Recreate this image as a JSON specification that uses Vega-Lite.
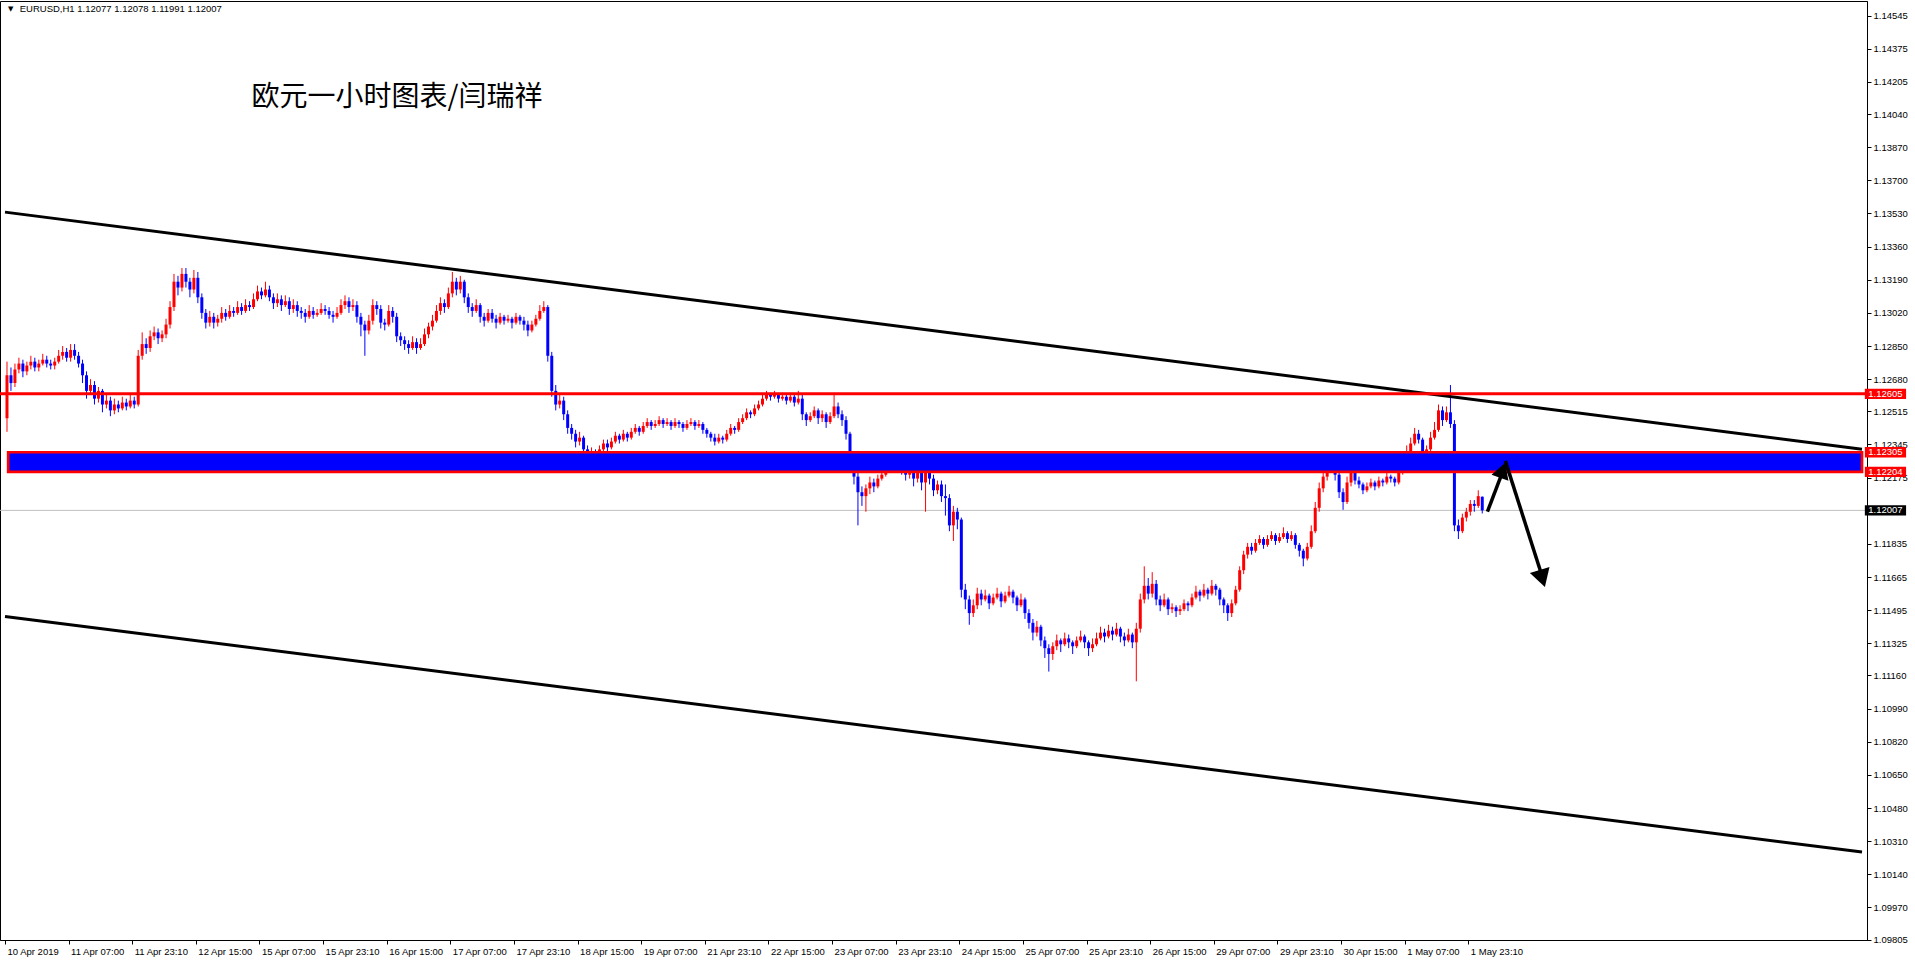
{
"$schema": "https://vega.github.io/schema/vega-lite/v6.json",
"width": 1867, "height": 939,
"autosize": {"type": "none"},
"padding": {"left": 0, "top": 1, "right": 48, "bottom": 23},
"background": "#ffffff",
"config": {"view": {"stroke": "#000000", "strokeWidth": 1}, "font": "Liberation Sans", "axis": {"labelOverlap": false, "labelBound": false, "labelFlush": false}},
"resolve": {"axis": {"x": "independent", "y": "independent"}},
"datasets": {
"candles": [
{"i":0,"o":1.1248,"h":1.1277,"l":1.1241,"c":1.1270},
{"i":1,"o":1.1270,"h":1.1274,"l":1.1262,"c":1.1266},
{"i":2,"o":1.1266,"h":1.1276,"l":1.1264,"c":1.1273},
{"i":3,"o":1.1273,"h":1.1279,"l":1.1271,"c":1.1276},
{"i":4,"o":1.1276,"h":1.1278,"l":1.1269,"c":1.1272},
{"i":5,"o":1.1272,"h":1.1277,"l":1.1270,"c":1.1275},
{"i":6,"o":1.1275,"h":1.1280,"l":1.1273,"c":1.1277},
{"i":7,"o":1.1277,"h":1.1279,"l":1.1272,"c":1.1274},
{"i":8,"o":1.1274,"h":1.1278,"l":1.1272,"c":1.1276},
{"i":9,"o":1.1276,"h":1.1281,"l":1.1275,"c":1.1278},
{"i":10,"o":1.1278,"h":1.1280,"l":1.1274,"c":1.1276},
{"i":11,"o":1.1276,"h":1.1278,"l":1.1273,"c":1.1275},
{"i":12,"o":1.1275,"h":1.1279,"l":1.1273,"c":1.1277},
{"i":13,"o":1.1277,"h":1.1283,"l":1.1276,"c":1.1280},
{"i":14,"o":1.1280,"h":1.1285,"l":1.1278,"c":1.1282},
{"i":15,"o":1.1282,"h":1.1284,"l":1.1277,"c":1.1279},
{"i":16,"o":1.1279,"h":1.1286,"l":1.1277,"c":1.1283},
{"i":17,"o":1.1283,"h":1.1286,"l":1.1278,"c":1.1280},
{"i":18,"o":1.1280,"h":1.1282,"l":1.1274,"c":1.1276},
{"i":19,"o":1.1276,"h":1.1278,"l":1.1266,"c":1.1270},
{"i":20,"o":1.1270,"h":1.1272,"l":1.1258,"c":1.1262},
{"i":21,"o":1.1262,"h":1.1268,"l":1.1260,"c":1.1265},
{"i":22,"o":1.1265,"h":1.1267,"l":1.1255,"c":1.1258},
{"i":23,"o":1.1258,"h":1.1264,"l":1.1256,"c":1.1262},
{"i":24,"o":1.1262,"h":1.1263,"l":1.1251,"c":1.1255},
{"i":25,"o":1.1255,"h":1.1260,"l":1.1253,"c":1.1257},
{"i":26,"o":1.1257,"h":1.1259,"l":1.1249,"c":1.1252},
{"i":27,"o":1.1252,"h":1.1258,"l":1.1250,"c":1.1255},
{"i":28,"o":1.1255,"h":1.1257,"l":1.1251,"c":1.1253},
{"i":29,"o":1.1253,"h":1.1259,"l":1.1252,"c":1.1256},
{"i":30,"o":1.1256,"h":1.1258,"l":1.1252,"c":1.1254},
{"i":31,"o":1.1254,"h":1.1260,"l":1.1253,"c":1.1257},
{"i":32,"o":1.1257,"h":1.1259,"l":1.1253,"c":1.1255},
{"i":33,"o":1.1255,"h":1.1283,"l":1.1254,"c":1.1280},
{"i":34,"o":1.1280,"h":1.1292,"l":1.1278,"c":1.1286},
{"i":35,"o":1.1286,"h":1.1289,"l":1.1281,"c":1.1284},
{"i":36,"o":1.1284,"h":1.1293,"l":1.1282,"c":1.1290},
{"i":37,"o":1.1290,"h":1.1295,"l":1.1288,"c":1.1292},
{"i":38,"o":1.1292,"h":1.1294,"l":1.1286,"c":1.1289},
{"i":39,"o":1.1289,"h":1.1293,"l":1.1287,"c":1.1291},
{"i":40,"o":1.1291,"h":1.1299,"l":1.1289,"c":1.1296},
{"i":41,"o":1.1296,"h":1.1308,"l":1.1294,"c":1.1305},
{"i":42,"o":1.1305,"h":1.1322,"l":1.1303,"c":1.1318},
{"i":43,"o":1.1318,"h":1.1321,"l":1.1311,"c":1.1315},
{"i":44,"o":1.1315,"h":1.1325,"l":1.1313,"c":1.1322},
{"i":45,"o":1.1322,"h":1.1325,"l":1.1315,"c":1.1318},
{"i":46,"o":1.1318,"h":1.1320,"l":1.1310,"c":1.1314},
{"i":47,"o":1.1314,"h":1.1324,"l":1.1312,"c":1.1320},
{"i":48,"o":1.1320,"h":1.1323,"l":1.1307,"c":1.1310},
{"i":49,"o":1.1310,"h":1.1312,"l":1.1299,"c":1.1302},
{"i":50,"o":1.1302,"h":1.1304,"l":1.1294,"c":1.1297},
{"i":51,"o":1.1297,"h":1.1303,"l":1.1295,"c":1.1300},
{"i":52,"o":1.1300,"h":1.1302,"l":1.1294,"c":1.1297},
{"i":53,"o":1.1297,"h":1.1301,"l":1.1295,"c":1.1299},
{"i":54,"o":1.1299,"h":1.1305,"l":1.1297,"c":1.1302},
{"i":55,"o":1.1302,"h":1.1304,"l":1.1298,"c":1.1300},
{"i":56,"o":1.1300,"h":1.1306,"l":1.1299,"c":1.1303},
{"i":57,"o":1.1303,"h":1.1305,"l":1.1300,"c":1.1302},
{"i":58,"o":1.1302,"h":1.1308,"l":1.1301,"c":1.1305},
{"i":59,"o":1.1305,"h":1.1307,"l":1.1301,"c":1.1303},
{"i":60,"o":1.1303,"h":1.1309,"l":1.1302,"c":1.1306},
{"i":61,"o":1.1306,"h":1.1308,"l":1.1303,"c":1.1305},
{"i":62,"o":1.1305,"h":1.1312,"l":1.1304,"c":1.1309},
{"i":63,"o":1.1309,"h":1.1316,"l":1.1308,"c":1.1313},
{"i":64,"o":1.1313,"h":1.1315,"l":1.1309,"c":1.1311},
{"i":65,"o":1.1311,"h":1.1318,"l":1.1310,"c":1.1314},
{"i":66,"o":1.1314,"h":1.1316,"l":1.1308,"c":1.1310},
{"i":67,"o":1.1310,"h":1.1312,"l":1.1304,"c":1.1307},
{"i":68,"o":1.1307,"h":1.1312,"l":1.1305,"c":1.1309},
{"i":69,"o":1.1309,"h":1.1311,"l":1.1303,"c":1.1306},
{"i":70,"o":1.1306,"h":1.1311,"l":1.1305,"c":1.1308},
{"i":71,"o":1.1308,"h":1.1310,"l":1.1301,"c":1.1304},
{"i":72,"o":1.1304,"h":1.1309,"l":1.1302,"c":1.1306},
{"i":73,"o":1.1306,"h":1.1308,"l":1.1300,"c":1.1303},
{"i":74,"o":1.1303,"h":1.1305,"l":1.1299,"c":1.1302},
{"i":75,"o":1.1302,"h":1.1304,"l":1.1297,"c":1.1300},
{"i":76,"o":1.1300,"h":1.1306,"l":1.1299,"c":1.1303},
{"i":77,"o":1.1303,"h":1.1305,"l":1.1299,"c":1.1301},
{"i":78,"o":1.1301,"h":1.1304,"l":1.1300,"c":1.1302},
{"i":79,"o":1.1302,"h":1.1307,"l":1.1301,"c":1.1304},
{"i":80,"o":1.1304,"h":1.1306,"l":1.1301,"c":1.1303},
{"i":81,"o":1.1303,"h":1.1305,"l":1.1299,"c":1.1301},
{"i":82,"o":1.1301,"h":1.1303,"l":1.1297,"c":1.1300},
{"i":83,"o":1.1300,"h":1.1305,"l":1.1299,"c":1.1302},
{"i":84,"o":1.1302,"h":1.1309,"l":1.1301,"c":1.1306},
{"i":85,"o":1.1306,"h":1.1311,"l":1.1304,"c":1.1308},
{"i":86,"o":1.1308,"h":1.1310,"l":1.1302,"c":1.1305},
{"i":87,"o":1.1305,"h":1.1309,"l":1.1303,"c":1.1306},
{"i":88,"o":1.1306,"h":1.1308,"l":1.1297,"c":1.1300},
{"i":89,"o":1.1300,"h":1.1302,"l":1.1290,"c":1.1296},
{"i":90,"o":1.1296,"h":1.1298,"l":1.1280,"c":1.1293},
{"i":91,"o":1.1293,"h":1.1301,"l":1.1291,"c":1.1298},
{"i":92,"o":1.1298,"h":1.1309,"l":1.1296,"c":1.1306},
{"i":93,"o":1.1306,"h":1.1308,"l":1.1301,"c":1.1304},
{"i":94,"o":1.1304,"h":1.1306,"l":1.1294,"c":1.1297},
{"i":95,"o":1.1297,"h":1.1299,"l":1.1293,"c":1.1296},
{"i":96,"o":1.1296,"h":1.1306,"l":1.1295,"c":1.1303},
{"i":97,"o":1.1303,"h":1.1305,"l":1.1297,"c":1.1300},
{"i":98,"o":1.1300,"h":1.1302,"l":1.1287,"c":1.1290},
{"i":99,"o":1.1290,"h":1.1292,"l":1.1285,"c":1.1288},
{"i":100,"o":1.1288,"h":1.1290,"l":1.1283,"c":1.1286},
{"i":101,"o":1.1286,"h":1.1288,"l":1.1281,"c":1.1284},
{"i":102,"o":1.1284,"h":1.1290,"l":1.1283,"c":1.1287},
{"i":103,"o":1.1287,"h":1.1289,"l":1.1281,"c":1.1284},
{"i":104,"o":1.1284,"h":1.1289,"l":1.1283,"c":1.1286},
{"i":105,"o":1.1286,"h":1.1294,"l":1.1285,"c":1.1291},
{"i":106,"o":1.1291,"h":1.1297,"l":1.1289,"c":1.1295},
{"i":107,"o":1.1295,"h":1.1301,"l":1.1293,"c":1.1298},
{"i":108,"o":1.1298,"h":1.1306,"l":1.1297,"c":1.1303},
{"i":109,"o":1.1303,"h":1.1310,"l":1.1301,"c":1.1307},
{"i":110,"o":1.1307,"h":1.1309,"l":1.1302,"c":1.1305},
{"i":111,"o":1.1305,"h":1.1315,"l":1.1304,"c":1.1312},
{"i":112,"o":1.1312,"h":1.1323,"l":1.1310,"c":1.1318},
{"i":113,"o":1.1318,"h":1.1320,"l":1.1311,"c":1.1314},
{"i":114,"o":1.1314,"h":1.1321,"l":1.1312,"c":1.1318},
{"i":115,"o":1.1318,"h":1.1319,"l":1.1307,"c":1.1310},
{"i":116,"o":1.1310,"h":1.1312,"l":1.1302,"c":1.1305},
{"i":117,"o":1.1305,"h":1.1307,"l":1.1300,"c":1.1303},
{"i":118,"o":1.1303,"h":1.1309,"l":1.1302,"c":1.1306},
{"i":119,"o":1.1306,"h":1.1307,"l":1.1297,"c":1.1300},
{"i":120,"o":1.1300,"h":1.1302,"l":1.1295,"c":1.1298},
{"i":121,"o":1.1298,"h":1.1304,"l":1.1297,"c":1.1302},
{"i":122,"o":1.1302,"h":1.1304,"l":1.1297,"c":1.1299},
{"i":123,"o":1.1299,"h":1.1301,"l":1.1294,"c":1.1297},
{"i":124,"o":1.1297,"h":1.1302,"l":1.1296,"c":1.1300},
{"i":125,"o":1.1300,"h":1.1301,"l":1.1296,"c":1.1298},
{"i":126,"o":1.1298,"h":1.1301,"l":1.1297,"c":1.1299},
{"i":127,"o":1.1299,"h":1.1300,"l":1.1294,"c":1.1297},
{"i":128,"o":1.1297,"h":1.1302,"l":1.1296,"c":1.1300},
{"i":129,"o":1.1300,"h":1.1301,"l":1.1296,"c":1.1298},
{"i":130,"o":1.1298,"h":1.1300,"l":1.1293,"c":1.1296},
{"i":131,"o":1.1296,"h":1.1298,"l":1.1290,"c":1.1293},
{"i":132,"o":1.1293,"h":1.1298,"l":1.1292,"c":1.1296},
{"i":133,"o":1.1296,"h":1.1301,"l":1.1295,"c":1.1299},
{"i":134,"o":1.1299,"h":1.1306,"l":1.1298,"c":1.1303},
{"i":135,"o":1.1303,"h":1.1308,"l":1.1302,"c":1.1305},
{"i":136,"o":1.1305,"h":1.1306,"l":1.1277,"c":1.1280},
{"i":137,"o":1.1280,"h":1.1282,"l":1.1259,"c":1.1262},
{"i":138,"o":1.1262,"h":1.1265,"l":1.1252,"c":1.1255},
{"i":139,"o":1.1255,"h":1.1260,"l":1.1253,"c":1.1257},
{"i":140,"o":1.1257,"h":1.1259,"l":1.1247,"c":1.1250},
{"i":141,"o":1.1250,"h":1.1252,"l":1.1240,"c":1.1243},
{"i":142,"o":1.1243,"h":1.1245,"l":1.1237,"c":1.1240},
{"i":143,"o":1.1240,"h":1.1242,"l":1.1233,"c":1.1236},
{"i":144,"o":1.1236,"h":1.1241,"l":1.1234,"c":1.1238},
{"i":145,"o":1.1238,"h":1.1239,"l":1.1229,"c":1.1232},
{"i":146,"o":1.1232,"h":1.1234,"l":1.1226,"c":1.1229},
{"i":147,"o":1.1229,"h":1.1233,"l":1.1227,"c":1.1231},
{"i":148,"o":1.1231,"h":1.1232,"l":1.1226,"c":1.1229},
{"i":149,"o":1.1229,"h":1.1234,"l":1.1228,"c":1.1232},
{"i":150,"o":1.1232,"h":1.1237,"l":1.1231,"c":1.1235},
{"i":151,"o":1.1235,"h":1.1237,"l":1.1231,"c":1.1233},
{"i":152,"o":1.1233,"h":1.1238,"l":1.1232,"c":1.1236},
{"i":153,"o":1.1236,"h":1.1241,"l":1.1235,"c":1.1239},
{"i":154,"o":1.1239,"h":1.1240,"l":1.1235,"c":1.1237},
{"i":155,"o":1.1237,"h":1.1242,"l":1.1236,"c":1.1240},
{"i":156,"o":1.1240,"h":1.1241,"l":1.1236,"c":1.1238},
{"i":157,"o":1.1238,"h":1.1243,"l":1.1237,"c":1.1241},
{"i":158,"o":1.1241,"h":1.1245,"l":1.1240,"c":1.1243},
{"i":159,"o":1.1243,"h":1.1244,"l":1.1239,"c":1.1241},
{"i":160,"o":1.1241,"h":1.1246,"l":1.1240,"c":1.1244},
{"i":161,"o":1.1244,"h":1.1248,"l":1.1243,"c":1.1246},
{"i":162,"o":1.1246,"h":1.1247,"l":1.1242,"c":1.1244},
{"i":163,"o":1.1244,"h":1.1247,"l":1.1243,"c":1.1245},
{"i":164,"o":1.1245,"h":1.1249,"l":1.1244,"c":1.1247},
{"i":165,"o":1.1247,"h":1.1248,"l":1.1243,"c":1.1245},
{"i":166,"o":1.1245,"h":1.1248,"l":1.1244,"c":1.1246},
{"i":167,"o":1.1246,"h":1.1247,"l":1.1242,"c":1.1244},
{"i":168,"o":1.1244,"h":1.1248,"l":1.1243,"c":1.1246},
{"i":169,"o":1.1246,"h":1.1247,"l":1.1243,"c":1.1245},
{"i":170,"o":1.1245,"h":1.1246,"l":1.1241,"c":1.1243},
{"i":171,"o":1.1243,"h":1.1247,"l":1.1242,"c":1.1245},
{"i":172,"o":1.1245,"h":1.1248,"l":1.1244,"c":1.1246},
{"i":173,"o":1.1246,"h":1.1247,"l":1.1242,"c":1.1244},
{"i":174,"o":1.1244,"h":1.1247,"l":1.1243,"c":1.1245},
{"i":175,"o":1.1245,"h":1.1246,"l":1.1240,"c":1.1242},
{"i":176,"o":1.1242,"h":1.1243,"l":1.1238,"c":1.1240},
{"i":177,"o":1.1240,"h":1.1241,"l":1.1236,"c":1.1238},
{"i":178,"o":1.1238,"h":1.1240,"l":1.1234,"c":1.1236},
{"i":179,"o":1.1236,"h":1.1240,"l":1.1235,"c":1.1238},
{"i":180,"o":1.1238,"h":1.1239,"l":1.1235,"c":1.1237},
{"i":181,"o":1.1237,"h":1.1242,"l":1.1236,"c":1.1240},
{"i":182,"o":1.1240,"h":1.1245,"l":1.1239,"c":1.1243},
{"i":183,"o":1.1243,"h":1.1244,"l":1.1240,"c":1.1242},
{"i":184,"o":1.1242,"h":1.1248,"l":1.1241,"c":1.1246},
{"i":185,"o":1.1246,"h":1.1250,"l":1.1245,"c":1.1248},
{"i":186,"o":1.1248,"h":1.1253,"l":1.1247,"c":1.1251},
{"i":187,"o":1.1251,"h":1.1252,"l":1.1248,"c":1.1250},
{"i":188,"o":1.1250,"h":1.1255,"l":1.1249,"c":1.1253},
{"i":189,"o":1.1253,"h":1.1257,"l":1.1252,"c":1.1255},
{"i":190,"o":1.1255,"h":1.1260,"l":1.1254,"c":1.1258},
{"i":191,"o":1.1258,"h":1.1262,"l":1.1257,"c":1.1260},
{"i":192,"o":1.1260,"h":1.1261,"l":1.1257,"c":1.1259},
{"i":193,"o":1.1259,"h":1.1262,"l":1.1258,"c":1.1260},
{"i":194,"o":1.1260,"h":1.1261,"l":1.1256,"c":1.1258},
{"i":195,"o":1.1258,"h":1.1261,"l":1.1257,"c":1.1259},
{"i":196,"o":1.1259,"h":1.1260,"l":1.1255,"c":1.1257},
{"i":197,"o":1.1257,"h":1.1261,"l":1.1256,"c":1.1259},
{"i":198,"o":1.1259,"h":1.1260,"l":1.1254,"c":1.1256},
{"i":199,"o":1.1256,"h":1.1262,"l":1.1255,"c":1.1258},
{"i":200,"o":1.1258,"h":1.1260,"l":1.1247,"c":1.1250},
{"i":201,"o":1.1250,"h":1.1251,"l":1.1244,"c":1.1247},
{"i":202,"o":1.1247,"h":1.1251,"l":1.1246,"c":1.1249},
{"i":203,"o":1.1249,"h":1.1254,"l":1.1248,"c":1.1252},
{"i":204,"o":1.1252,"h":1.1253,"l":1.1245,"c":1.1248},
{"i":205,"o":1.1248,"h":1.1252,"l":1.1246,"c":1.1250},
{"i":206,"o":1.1250,"h":1.1251,"l":1.1243,"c":1.1246},
{"i":207,"o":1.1246,"h":1.1251,"l":1.1245,"c":1.1249},
{"i":208,"o":1.1249,"h":1.1261,"l":1.1248,"c":1.1254},
{"i":209,"o":1.1254,"h":1.1256,"l":1.1248,"c":1.1250},
{"i":210,"o":1.1250,"h":1.1252,"l":1.1244,"c":1.1247},
{"i":211,"o":1.1247,"h":1.1249,"l":1.1237,"c":1.1240},
{"i":212,"o":1.1240,"h":1.1241,"l":1.1225,"c":1.1228},
{"i":213,"o":1.1228,"h":1.1230,"l":1.1214,"c":1.1218},
{"i":214,"o":1.1218,"h":1.1220,"l":1.1193,"c":1.1210},
{"i":215,"o":1.1210,"h":1.1213,"l":1.1203,"c":1.1208},
{"i":216,"o":1.1208,"h":1.1214,"l":1.1200,"c":1.1212},
{"i":217,"o":1.1212,"h":1.1218,"l":1.1209,"c":1.1215},
{"i":218,"o":1.1215,"h":1.1217,"l":1.1210,"c":1.1213},
{"i":219,"o":1.1213,"h":1.1219,"l":1.1212,"c":1.1217},
{"i":220,"o":1.1217,"h":1.1221,"l":1.1216,"c":1.1219},
{"i":221,"o":1.1219,"h":1.1229,"l":1.1218,"c":1.1224},
{"i":222,"o":1.1224,"h":1.1231,"l":1.1223,"c":1.1228},
{"i":223,"o":1.1228,"h":1.1230,"l":1.1224,"c":1.1226},
{"i":224,"o":1.1226,"h":1.1228,"l":1.1222,"c":1.1224},
{"i":225,"o":1.1224,"h":1.1226,"l":1.1219,"c":1.1222},
{"i":226,"o":1.1222,"h":1.1224,"l":1.1216,"c":1.1219},
{"i":227,"o":1.1219,"h":1.1223,"l":1.1217,"c":1.1221},
{"i":228,"o":1.1221,"h":1.1222,"l":1.1213,"c":1.1217},
{"i":229,"o":1.1217,"h":1.1223,"l":1.1215,"c":1.1220},
{"i":230,"o":1.1220,"h":1.1221,"l":1.1211,"c":1.1215},
{"i":231,"o":1.1215,"h":1.1226,"l":1.1200,"c":1.1222},
{"i":232,"o":1.1222,"h":1.1224,"l":1.1214,"c":1.1217},
{"i":233,"o":1.1217,"h":1.1219,"l":1.1208,"c":1.1211},
{"i":234,"o":1.1211,"h":1.1216,"l":1.1209,"c":1.1214},
{"i":235,"o":1.1214,"h":1.1216,"l":1.1205,"c":1.1208},
{"i":236,"o":1.1208,"h":1.1214,"l":1.1198,"c":1.1207},
{"i":237,"o":1.1207,"h":1.1209,"l":1.1190,"c":1.1193},
{"i":238,"o":1.1193,"h":1.1203,"l":1.1185,"c":1.1200},
{"i":239,"o":1.1200,"h":1.1202,"l":1.1191,"c":1.1196},
{"i":240,"o":1.1196,"h":1.1197,"l":1.1156,"c":1.1160},
{"i":241,"o":1.1160,"h":1.1163,"l":1.1150,"c":1.1155},
{"i":242,"o":1.1155,"h":1.1157,"l":1.1142,"c":1.1148},
{"i":243,"o":1.1148,"h":1.1155,"l":1.1146,"c":1.1152},
{"i":244,"o":1.1152,"h":1.1161,"l":1.1150,"c":1.1158},
{"i":245,"o":1.1158,"h":1.1160,"l":1.1152,"c":1.1155},
{"i":246,"o":1.1155,"h":1.1160,"l":1.1154,"c":1.1157},
{"i":247,"o":1.1157,"h":1.1158,"l":1.1150,"c":1.1153},
{"i":248,"o":1.1153,"h":1.1158,"l":1.1152,"c":1.1156},
{"i":249,"o":1.1156,"h":1.1161,"l":1.1155,"c":1.1158},
{"i":250,"o":1.1158,"h":1.1159,"l":1.1151,"c":1.1154},
{"i":251,"o":1.1154,"h":1.1159,"l":1.1153,"c":1.1157},
{"i":252,"o":1.1157,"h":1.1162,"l":1.1156,"c":1.1159},
{"i":253,"o":1.1159,"h":1.1160,"l":1.1153,"c":1.1156},
{"i":254,"o":1.1156,"h":1.1157,"l":1.1149,"c":1.1152},
{"i":255,"o":1.1152,"h":1.1158,"l":1.1151,"c":1.1155},
{"i":256,"o":1.1155,"h":1.1156,"l":1.1145,"c":1.1148},
{"i":257,"o":1.1148,"h":1.1150,"l":1.1140,"c":1.1143},
{"i":258,"o":1.1143,"h":1.1145,"l":1.1134,"c":1.1138},
{"i":259,"o":1.1138,"h":1.1144,"l":1.1136,"c":1.1141},
{"i":260,"o":1.1141,"h":1.1142,"l":1.1131,"c":1.1134},
{"i":261,"o":1.1134,"h":1.1136,"l":1.1125,"c":1.1130},
{"i":262,"o":1.1130,"h":1.1132,"l":1.1118,"c":1.1127},
{"i":263,"o":1.1127,"h":1.1133,"l":1.1124,"c":1.1131},
{"i":264,"o":1.1131,"h":1.1137,"l":1.1129,"c":1.1134},
{"i":265,"o":1.1134,"h":1.1135,"l":1.1128,"c":1.1132},
{"i":266,"o":1.1132,"h":1.1138,"l":1.1131,"c":1.1135},
{"i":267,"o":1.1135,"h":1.1137,"l":1.1130,"c":1.1133},
{"i":268,"o":1.1133,"h":1.1134,"l":1.1127,"c":1.1131},
{"i":269,"o":1.1131,"h":1.1136,"l":1.1130,"c":1.1134},
{"i":270,"o":1.1134,"h":1.1139,"l":1.1133,"c":1.1136},
{"i":271,"o":1.1136,"h":1.1137,"l":1.1130,"c":1.1133},
{"i":272,"o":1.1133,"h":1.1134,"l":1.1126,"c":1.1130},
{"i":273,"o":1.1130,"h":1.1135,"l":1.1128,"c":1.1132},
{"i":274,"o":1.1132,"h":1.1138,"l":1.1131,"c":1.1135},
{"i":275,"o":1.1135,"h":1.1141,"l":1.1134,"c":1.1138},
{"i":276,"o":1.1138,"h":1.1140,"l":1.1133,"c":1.1136},
{"i":277,"o":1.1136,"h":1.1142,"l":1.1135,"c":1.1139},
{"i":278,"o":1.1139,"h":1.1141,"l":1.1134,"c":1.1137},
{"i":279,"o":1.1137,"h":1.1143,"l":1.1136,"c":1.1140},
{"i":280,"o":1.1140,"h":1.1141,"l":1.1133,"c":1.1136},
{"i":281,"o":1.1136,"h":1.1138,"l":1.1131,"c":1.1134},
{"i":282,"o":1.1134,"h":1.1140,"l":1.1133,"c":1.1137},
{"i":283,"o":1.1137,"h":1.1138,"l":1.1130,"c":1.1133},
{"i":284,"o":1.1133,"h":1.1143,"l":1.1113,"c":1.1140},
{"i":285,"o":1.1140,"h":1.1158,"l":1.1138,"c":1.1155},
{"i":286,"o":1.1155,"h":1.1172,"l":1.1153,"c":1.1162},
{"i":287,"o":1.1162,"h":1.1166,"l":1.1155,"c":1.1158},
{"i":288,"o":1.1158,"h":1.1169,"l":1.1156,"c":1.1163},
{"i":289,"o":1.1163,"h":1.1165,"l":1.1152,"c":1.1155},
{"i":290,"o":1.1155,"h":1.1157,"l":1.1149,"c":1.1152},
{"i":291,"o":1.1152,"h":1.1158,"l":1.1151,"c":1.1155},
{"i":292,"o":1.1155,"h":1.1156,"l":1.1147,"c":1.1150},
{"i":293,"o":1.1150,"h":1.1153,"l":1.1148,"c":1.1151},
{"i":294,"o":1.1151,"h":1.1152,"l":1.1146,"c":1.1149},
{"i":295,"o":1.1149,"h":1.1152,"l":1.1147,"c":1.1150},
{"i":296,"o":1.1150,"h":1.1155,"l":1.1149,"c":1.1153},
{"i":297,"o":1.1153,"h":1.1154,"l":1.1149,"c":1.1152},
{"i":298,"o":1.1152,"h":1.1158,"l":1.1151,"c":1.1156},
{"i":299,"o":1.1156,"h":1.1162,"l":1.1155,"c":1.1159},
{"i":300,"o":1.1159,"h":1.1160,"l":1.1154,"c":1.1157},
{"i":301,"o":1.1157,"h":1.1163,"l":1.1156,"c":1.1160},
{"i":302,"o":1.1160,"h":1.1161,"l":1.1155,"c":1.1158},
{"i":303,"o":1.1158,"h":1.1165,"l":1.1157,"c":1.1162},
{"i":304,"o":1.1162,"h":1.1163,"l":1.1157,"c":1.1160},
{"i":305,"o":1.1160,"h":1.1161,"l":1.1152,"c":1.1155},
{"i":306,"o":1.1155,"h":1.1156,"l":1.1148,"c":1.1152},
{"i":307,"o":1.1152,"h":1.1153,"l":1.1144,"c":1.1148},
{"i":308,"o":1.1148,"h":1.1155,"l":1.1146,"c":1.1153},
{"i":309,"o":1.1153,"h":1.1162,"l":1.1152,"c":1.1160},
{"i":310,"o":1.1160,"h":1.1172,"l":1.1159,"c":1.1170},
{"i":311,"o":1.1170,"h":1.1180,"l":1.1168,"c":1.1178},
{"i":312,"o":1.1178,"h":1.1184,"l":1.1176,"c":1.1182},
{"i":313,"o":1.1182,"h":1.1184,"l":1.1178,"c":1.1180},
{"i":314,"o":1.1180,"h":1.1186,"l":1.1179,"c":1.1184},
{"i":315,"o":1.1184,"h":1.1188,"l":1.1183,"c":1.1186},
{"i":316,"o":1.1186,"h":1.1187,"l":1.1181,"c":1.1183},
{"i":317,"o":1.1183,"h":1.1188,"l":1.1182,"c":1.1186},
{"i":318,"o":1.1186,"h":1.1190,"l":1.1185,"c":1.1188},
{"i":319,"o":1.1188,"h":1.1189,"l":1.1183,"c":1.1185},
{"i":320,"o":1.1185,"h":1.1189,"l":1.1184,"c":1.1187},
{"i":321,"o":1.1187,"h":1.1192,"l":1.1186,"c":1.1189},
{"i":322,"o":1.1189,"h":1.1190,"l":1.1184,"c":1.1186},
{"i":323,"o":1.1186,"h":1.1190,"l":1.1185,"c":1.1188},
{"i":324,"o":1.1188,"h":1.1189,"l":1.1181,"c":1.1183},
{"i":325,"o":1.1183,"h":1.1184,"l":1.1177,"c":1.1180},
{"i":326,"o":1.1180,"h":1.1181,"l":1.1172,"c":1.1176},
{"i":327,"o":1.1176,"h":1.1184,"l":1.1175,"c":1.1182},
{"i":328,"o":1.1182,"h":1.1193,"l":1.1181,"c":1.1190},
{"i":329,"o":1.1190,"h":1.1205,"l":1.1189,"c":1.1202},
{"i":330,"o":1.1202,"h":1.1215,"l":1.1200,"c":1.1212},
{"i":331,"o":1.1212,"h":1.1221,"l":1.1210,"c":1.1218},
{"i":332,"o":1.1218,"h":1.1225,"l":1.1216,"c":1.1222},
{"i":333,"o":1.1222,"h":1.1231,"l":1.1220,"c":1.1226},
{"i":334,"o":1.1226,"h":1.1228,"l":1.1216,"c":1.1219},
{"i":335,"o":1.1219,"h":1.1220,"l":1.1207,"c":1.1210},
{"i":336,"o":1.1210,"h":1.1212,"l":1.1201,"c":1.1205},
{"i":337,"o":1.1205,"h":1.1218,"l":1.1204,"c":1.1215},
{"i":338,"o":1.1215,"h":1.1224,"l":1.1213,"c":1.1220},
{"i":339,"o":1.1220,"h":1.1222,"l":1.1214,"c":1.1216},
{"i":340,"o":1.1216,"h":1.1218,"l":1.1212,"c":1.1214},
{"i":341,"o":1.1214,"h":1.1215,"l":1.1209,"c":1.1211},
{"i":342,"o":1.1211,"h":1.1215,"l":1.1210,"c":1.1213},
{"i":343,"o":1.1213,"h":1.1217,"l":1.1212,"c":1.1215},
{"i":344,"o":1.1215,"h":1.1216,"l":1.1211,"c":1.1213},
{"i":345,"o":1.1213,"h":1.1218,"l":1.1212,"c":1.1216},
{"i":346,"o":1.1216,"h":1.1217,"l":1.1213,"c":1.1215},
{"i":347,"o":1.1215,"h":1.1220,"l":1.1214,"c":1.1218},
{"i":348,"o":1.1218,"h":1.1219,"l":1.1215,"c":1.1217},
{"i":349,"o":1.1217,"h":1.1218,"l":1.1213,"c":1.1215},
{"i":350,"o":1.1215,"h":1.1222,"l":1.1214,"c":1.1220},
{"i":351,"o":1.1220,"h":1.1228,"l":1.1219,"c":1.1226},
{"i":352,"o":1.1226,"h":1.1234,"l":1.1225,"c":1.1231},
{"i":353,"o":1.1231,"h":1.1238,"l":1.1230,"c":1.1235},
{"i":354,"o":1.1235,"h":1.1243,"l":1.1234,"c":1.1240},
{"i":355,"o":1.1240,"h":1.1242,"l":1.1235,"c":1.1237},
{"i":356,"o":1.1237,"h":1.1238,"l":1.1222,"c":1.1225},
{"i":357,"o":1.1225,"h":1.1234,"l":1.1224,"c":1.1232},
{"i":358,"o":1.1232,"h":1.1241,"l":1.1231,"c":1.1238},
{"i":359,"o":1.1238,"h":1.1246,"l":1.1237,"c":1.1242},
{"i":360,"o":1.1242,"h":1.1255,"l":1.1241,"c":1.1252},
{"i":361,"o":1.1252,"h":1.1254,"l":1.1244,"c":1.1247},
{"i":362,"o":1.1247,"h":1.1254,"l":1.1246,"c":1.1251},
{"i":363,"o":1.1251,"h":1.1265,"l":1.1243,"c":1.1245},
{"i":364,"o":1.1245,"h":1.1247,"l":1.1190,"c":1.1193},
{"i":365,"o":1.1193,"h":1.1196,"l":1.1186,"c":1.1190},
{"i":366,"o":1.1190,"h":1.1199,"l":1.1189,"c":1.1197},
{"i":367,"o":1.1197,"h":1.1202,"l":1.1195,"c":1.1200},
{"i":368,"o":1.1200,"h":1.1206,"l":1.1198,"c":1.1204},
{"i":369,"o":1.1204,"h":1.1206,"l":1.1200,"c":1.1203},
{"i":370,"o":1.1203,"h":1.1211,"l":1.1202,"c":1.1208},
{"i":371,"o":1.12077,"h":1.12078,"l":1.11991,"c":1.12007}
],
"tlines": [
{"t1":-0.5,"p1":1.13537,"t2":466.5,"p2":1.12321},
{"t1":-0.5,"p1":1.11463,"t2":466.5,"p2":1.10254}
],
"shafts": [
{"t1":372.3,"p1":1.1200,"t2":376.3,"p2":1.12215},
{"t1":376.8,"p1":1.12261,"t2":386.2,"p2":1.1166}
],
"headUp": [{"t":376.1,"p":1.12212}],
"headDown": [{"t":386.1,"p":1.11658}],
"boxes": [
{"p":1.12605,"kind":"level","lab":"1.12605"},
{"p":1.12305,"kind":"level","lab":"1.12305"},
{"p":1.12204,"kind":"level","lab":"1.12204"},
{"p":1.12007,"kind":"bid","lab":"1.12007"}
]
},
"layer": [
{
"data": {"values": [{"p": 1.12007}]},
"mark": {"type": "rule", "color": "#c0c0c0", "strokeWidth": 1},
"encoding": {
"y": {"field": "p", "type": "quantitative",
"scale": {"domain": [1.09803, 1.14620], "nice": false, "zero": false},
"axis": {"orient": "right", "title": null, "grid": false,
"values": [1.14545,1.14375,1.14205,1.14040,1.13870,1.13700,1.13530,1.13360,1.13190,1.13020,1.12850,1.12680,1.12515,1.12345,1.12175,1.11835,1.11665,1.11495,1.11325,1.11160,1.10990,1.10820,1.10650,1.10480,1.10310,1.10140,1.09970,1.09805],
"format": ".5f", "labelFont": "Liberation Sans", "labelFontSize": 9.5, "labelColor": "#000000",
"tickSize": 4, "tickColor": "#000000", "domainColor": "#000000", "labelPadding": 2, "labelOverlap": false, "labelBound": false, "labelFlush": false}}
}
},
{
"data": {"name": "candles"},
"mark": {"type": "rule", "strokeWidth": 1},
"encoding": {
"x": {"field": "i", "type": "quantitative",
"scale": {"domain": [-0.5, 466.5], "nice": false, "zero": false},
"axis": {"orient": "bottom", "title": null, "grid": false,
"values": [-0.5,15.5,31.5,47.5,63.5,79.5,95.5,111.5,127.5,143.5,159.5,175.5,191.5,207.5,223.5,239.5,255.5,271.5,287.5,303.5,319.5,335.5,351.5,367.5],
"labelExpr": "['10 Apr 2019','11 Apr 07:00','11 Apr 23:10','12 Apr 15:00','15 Apr 07:00','15 Apr 23:10','16 Apr 15:00','17 Apr 07:00','17 Apr 23:10','18 Apr 15:00','19 Apr 07:00','21 Apr 23:10','22 Apr 15:00','23 Apr 07:00','23 Apr 23:10','24 Apr 15:00','25 Apr 07:00','25 Apr 23:10','26 Apr 15:00','29 Apr 07:00','29 Apr 23:10','30 Apr 15:00','1 May 07:00','1 May 23:10'][round((datum.value+0.5)/16)]",
"labelAlign": "left", "labelOffset": 2, "labelFont": "Liberation Sans", "labelFontSize": 9.5, "labelColor": "#000000",
"tickSize": 4, "tickColor": "#000000", "domainColor": "#000000", "labelPadding": 2, "labelOverlap": false, "labelBound": false, "labelFlush": false}},
"y": {"field": "l", "type": "quantitative", "axis": null},
"y2": {"field": "h"},
"color": {"condition": [{"test": "datum.c > datum.o", "value": "#ff0000"}, {"test": "datum.c < datum.o", "value": "#0000ff"}], "value": "#000000"}
}
},
{
"data": {"name": "candles"},
"mark": {"type": "bar", "size": 3},
"encoding": {
"x": {"field": "i", "type": "quantitative", "axis": null},
"y": {"field": "o", "type": "quantitative", "axis": null},
"y2": {"field": "c"},
"color": {"condition": [{"test": "datum.c > datum.o", "value": "#ff0000"}, {"test": "datum.c < datum.o", "value": "#0000ff"}], "value": "#000000"}
}
},
{
"data": {"name": "tlines"},
"mark": {"type": "rule", "color": "#000000", "strokeWidth": 3},
"encoding": {
"x": {"field": "t1", "type": "quantitative", "axis": null},
"x2": {"field": "t2"},
"y": {"field": "p1", "type": "quantitative", "axis": null},
"y2": {"field": "p2"}
}
},
{
"data": {"values": [{"p": 1.12605}]},
"mark": {"type": "rule", "color": "#ff0000", "strokeWidth": 3},
"encoding": {"y": {"field": "p", "type": "quantitative", "axis": null}}
},
{
"data": {"values": [{"lo": 1.12204, "hi": 1.12305}]},
"mark": {"type": "rect", "fill": "#0000ff", "stroke": "#ff0000", "strokeWidth": 2.7},
"encoding": {
"x": {"datum": 0.3, "type": "quantitative", "axis": null},
"x2": {"datum": 466.5},
"y": {"field": "lo", "type": "quantitative", "axis": null},
"y2": {"field": "hi"}
}
},
{
"data": {"name": "shafts"},
"mark": {"type": "rule", "color": "#000000", "strokeWidth": 3.5},
"encoding": {
"x": {"field": "t1", "type": "quantitative", "axis": null},
"x2": {"field": "t2"},
"y": {"field": "p1", "type": "quantitative", "axis": null},
"y2": {"field": "p2"}
}
},
{
"data": {"name": "headUp"},
"mark": {"type": "point", "shape": "triangle-up", "filled": true, "color": "#000000", "size": 320, "angle": 19, "opacity": 1},
"encoding": {
"x": {"field": "t", "type": "quantitative", "axis": null},
"y": {"field": "p", "type": "quantitative", "axis": null}
}
},
{
"data": {"name": "headDown"},
"mark": {"type": "point", "shape": "triangle-up", "filled": true, "color": "#000000", "size": 420, "angle": 163, "opacity": 1},
"encoding": {
"x": {"field": "t", "type": "quantitative", "axis": null},
"y": {"field": "p", "type": "quantitative", "axis": null}
}
},
{
"data": {"values": [{"txt": "欧元一小时图表/闫瑞祥"}]},
"mark": {"type": "text", "font": "Noto Sans CJK SC", "fontSize": 28, "align": "left", "baseline": "middle", "color": "#000000"},
"encoding": {
"x": {"datum": 61.5, "type": "quantitative", "axis": null},
"y": {"datum": 1.14123, "type": "quantitative", "axis": null},
"text": {"field": "txt"}
}
},
{
"data": {"values": [{"txt": "EURUSD,H1  1.12077 1.12078 1.11991 1.12007"}]},
"mark": {"type": "text", "font": "Liberation Sans", "fontSize": 9.5, "align": "left", "baseline": "middle", "color": "#000000"},
"encoding": {
"x": {"datum": 3.2, "type": "quantitative", "axis": null},
"y": {"datum": 1.14579, "type": "quantitative", "axis": null},
"text": {"field": "txt"}
}
},
{
"data": {"values": [{"txt": "▼"}]},
"mark": {"type": "text", "font": "DejaVu Sans", "fontSize": 7, "align": "center", "baseline": "middle", "color": "#000000"},
"encoding": {
"x": {"datum": 0.9, "type": "quantitative", "axis": null},
"y": {"datum": 1.14579, "type": "quantitative", "axis": null},
"text": {"field": "txt"}
}
},
{
"data": {"name": "boxes"},
"mark": {"type": "point", "shape": "M-1,-0.25H1V0.25H-1Z", "filled": true, "size": 1700, "opacity": 1, "strokeWidth": 0},
"encoding": {
"x": {"datum": 472.4, "type": "quantitative", "axis": null},
"y": {"field": "p", "type": "quantitative", "axis": null},
"color": {"condition": {"test": "datum.kind === 'bid'", "value": "#000000"}, "value": "#ff0000"}
}
},
{
"data": {"name": "boxes"},
"mark": {"type": "text", "font": "Liberation Sans", "fontSize": 9.5, "align": "center", "baseline": "middle", "color": "#ffffff"},
"encoding": {
"x": {"datum": 472.4, "type": "quantitative", "axis": null},
"y": {"field": "p", "type": "quantitative", "axis": null},
"text": {"field": "lab"}
}
}
]
}
